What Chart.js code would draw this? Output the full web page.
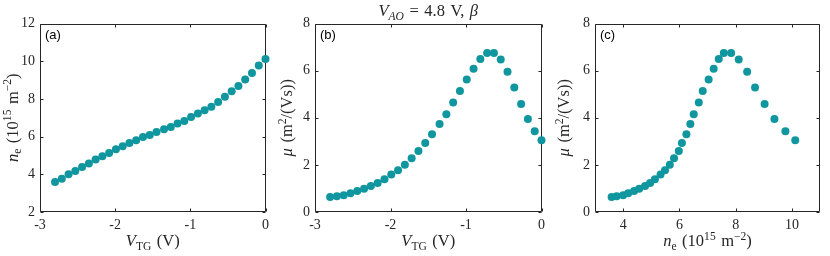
<!DOCTYPE html>
<html><head><meta charset="utf-8">
<script src="https://cdn.jsdelivr.net/npm/chart.js@4/dist/chart.umd.min.js"></script>
<style>
html,body{margin:0;padding:0;background:#fff;}
#wrap{position:relative;width:830px;height:256px;overflow:hidden;}
.pane{position:absolute;top:0;height:256px;}
canvas{display:block;}
</style></head><body>
<div id="wrap">
<div class="pane" style="left:0;width:274px"><canvas id="ca" width="274" height="256"></canvas></div>
<div class="pane" style="left:274px;width:276px"><canvas id="cb" width="276" height="256"></canvas></div>
<div class="pane" style="left:550px;width:280px"><canvas id="cc" width="280" height="256"></canvas></div>
</div>
<script>
// ---- data ----
const vTG = [-2.8, -2.71, -2.62, -2.53, -2.44, -2.35, -2.26, -2.17, -2.08, -1.99, -1.90, -1.81, -1.72, -1.63, -1.54, -1.45,
             -1.35, -1.26, -1.17, -1.08, -0.99, -0.90, -0.81, -0.72, -0.63, -0.54, -0.45, -0.36, -0.27, -0.18, -0.09, 0];
const nE = [3.59, 3.77, 4.00, 4.18, 4.39, 4.57, 4.78, 4.96, 5.13, 5.33, 5.49, 5.66, 5.81, 5.98, 6.09, 6.25,
            6.39, 6.51, 6.69, 6.83, 7.04, 7.22, 7.40, 7.58, 7.84, 8.11, 8.41, 8.69, 9.03, 9.38, 9.77, 10.12];
const mu = [0.64, 0.67, 0.71, 0.80, 0.89, 0.99, 1.10, 1.23, 1.39, 1.59, 1.77, 2.01, 2.28, 2.59, 2.93, 3.30,
            3.73, 4.15, 4.65, 5.14, 5.62, 6.08, 6.49, 6.75, 6.75, 6.47, 5.95, 5.28, 4.58, 3.95, 3.43, 3.05];
const vTicks = [-3, -2, -1, 0];
const nTicksY = [2, 4, 6, 8, 10, 12];
const muTicks = [0, 2, 4, 6, 8];
const nTicksX = [4, 6, 8, 10];

// ---- styling ----
const INK = '#262626';
const TEAL = '#0f969e';
const SERIF = '"Liberation Serif", "DejaVu Serif", serif';
const SANS = '"Liberation Sans", Arial, sans-serif';

function pairs(xs, ys) { return xs.map((x, i) => ({x: x, y: ys[i]})); }

function segFont(seg, S) {
  const sz = seg.s === 'sub' || seg.s === 'sup' ? S * 0.7 : S;
  return (seg.it ? 'italic ' : '') + sz + 'px ' + SERIF;
}
function drawRich(ctx, segs, x, y, S, rotate) {
  ctx.save();
  ctx.translate(x, y);
  if (rotate) ctx.rotate(-Math.PI / 2);
  let total = 0;
  const widths = segs.map(seg => { ctx.font = segFont(seg, S); const w = ctx.measureText(seg.t).width; total += w; return w; });
  let cx = -total / 2;
  ctx.fillStyle = INK;
  ctx.textBaseline = 'alphabetic';
  ctx.textAlign = 'left';
  segs.forEach((seg, i) => {
    ctx.font = segFont(seg, S);
    let dy = 0;
    if (seg.s === 'sub') dy = S * 0.22;
    if (seg.s === 'sup') dy = -S * 0.38;
    ctx.fillText(seg.t, cx, dy);
    cx += widths[i];
  });
  ctx.restore();
}

const framePlugin = {
  id: 'frame',
  beforeDatasetsDraw(chart) {
    const {ctx, chartArea: a} = chart;
    const xs = chart.scales.x, ys = chart.scales.y;
    const L = 3;
    ctx.save();
    ctx.strokeStyle = INK;
    ctx.lineWidth = 1;
    ctx.beginPath();
    const l = Math.round(a.left) + 0.5, r = Math.round(a.right) - 0.5;
    const t = Math.round(a.top) + 0.5, b = Math.round(a.bottom) - 0.5;
    ctx.rect(l, t, r - l, b - t);
    xs.ticks.forEach(tk => {
      const px = Math.round(xs.getPixelForValue(tk.value)) + 0.5;
      ctx.moveTo(px, b); ctx.lineTo(px, b - L);
      ctx.moveTo(px, t); ctx.lineTo(px, t + L);
    });
    ys.ticks.forEach(tk => {
      const py = Math.round(ys.getPixelForValue(tk.value)) + 0.5;
      ctx.moveTo(l, py); ctx.lineTo(l + L, py);
      ctx.moveTo(r, py); ctx.lineTo(r - L, py);
    });
    ctx.stroke();
    ctx.restore();
  },
  afterDraw(chart) {
    const o = chart.options.plugins.frame;
    const {ctx, chartArea: a} = chart;
    const cxm = (a.left + a.right) / 2, cym = (a.top + a.bottom) / 2;
    drawRich(ctx, o.xTitle, cxm, 246, 16.5, false);
    drawRich(ctx, o.yTitle, o.yTitleX, cym, 16.5, true);
    if (o.title) drawRich(ctx, o.title, cxm, 16, 16.5, false);
    ctx.save();
    ctx.fillStyle = '#000';
    ctx.font = '13px ' + SANS;
    ctx.textBaseline = 'alphabetic';
    ctx.textAlign = 'left';
    ctx.fillText(o.panel, a.left + 5, a.top + 15);
    ctx.restore();
  }
};

function fixedTicks(list) {
  return function (scale) { scale.ticks = list.map(v => ({value: v})); };
}

function makeChart(id, data, xr, yr, xt, yt, yWidth, pad, frameOpts) {
  return new Chart(document.getElementById(id), {
    type: 'scatter',
    data: {datasets: [{data: data, backgroundColor: TEAL, borderWidth: 0, pointRadius: 4, pointHoverRadius: 4, clip: false}]},
    options: {
      responsive: false, animation: false, events: [],
      layout: {padding: pad},
      plugins: {legend: {display: false}, tooltip: {enabled: false}, frame: frameOpts},
      scales: {
        x: {type: 'linear', min: xr[0], max: xr[1], afterBuildTicks: fixedTicks(xt),
            afterFit: s => { s.height = 44; },
            grid: {display: false, drawTicks: false}, border: {display: false},
            ticks: {autoSkip: false, maxRotation: 0, padding: 5, color: INK, font: {family: SERIF, size: 14}}},
        y: {type: 'linear', min: yr[0], max: yr[1], afterBuildTicks: fixedTicks(yt),
            afterFit: s => { s.width = yWidth; },
            grid: {display: false, drawTicks: false}, border: {display: false},
            ticks: {autoSkip: false, padding: 5, color: INK, font: {family: SERIF, size: 14}}}
      }
    },
    plugins: [framePlugin]
  });
}

const vtgTitle = [{t: 'V', it: true}, {t: 'TG', s: 'sub'}, {t: '\u2004(V)'}];
const neTitle = [{t: 'n', it: true}, {t: 'e', s: 'sub'}, {t: '\u2004(10'}, {t: '15', s: 'sup'}, {t: '\u2004m'}, {t: '\u22122', s: 'sup'}, {t: ')'}];
const muTitle = [{t: '\u03bc', it: true}, {t: '\u2004(m'}, {t: '2', s: 'sup'}, {t: '/(Vs))'}];
const topTitle = [{t: 'V', it: true}, {t: 'AO', it: true, s: 'sub'}, {t: '\u2004=\u20044.8\u2004V,\u2004'}, {t: '\u03b2', it: true}];

makeChart('ca', pairs(vTG, nE), [-3, 0], [2, 12], vTicks, nTicksY, 40,
  {left: 0, right: 7, top: 23.5, bottom: 0},
  {xTitle: vtgTitle, yTitle: neTitle, yTitleX: 17.5, panel: '(a)'});
makeChart('cb', pairs(vTG, mu), [-3, 0], [0, 8], vTicks, muTicks, 41,
  {left: 0, right: 8.5, top: 23.5, bottom: 0},
  {xTitle: vtgTitle, yTitle: muTitle, yTitleX: 18, panel: '(b)', title: topTitle});
makeChart('cc', pairs(nE, mu), [3, 11], [0, 8], nTicksX, muTicks, 45,
  {left: 0, right: 10, top: 23.5, bottom: 0},
  {xTitle: neTitle, yTitle: muTitle, yTitleX: 19, panel: '(c)'});
</script>
</body></html>
